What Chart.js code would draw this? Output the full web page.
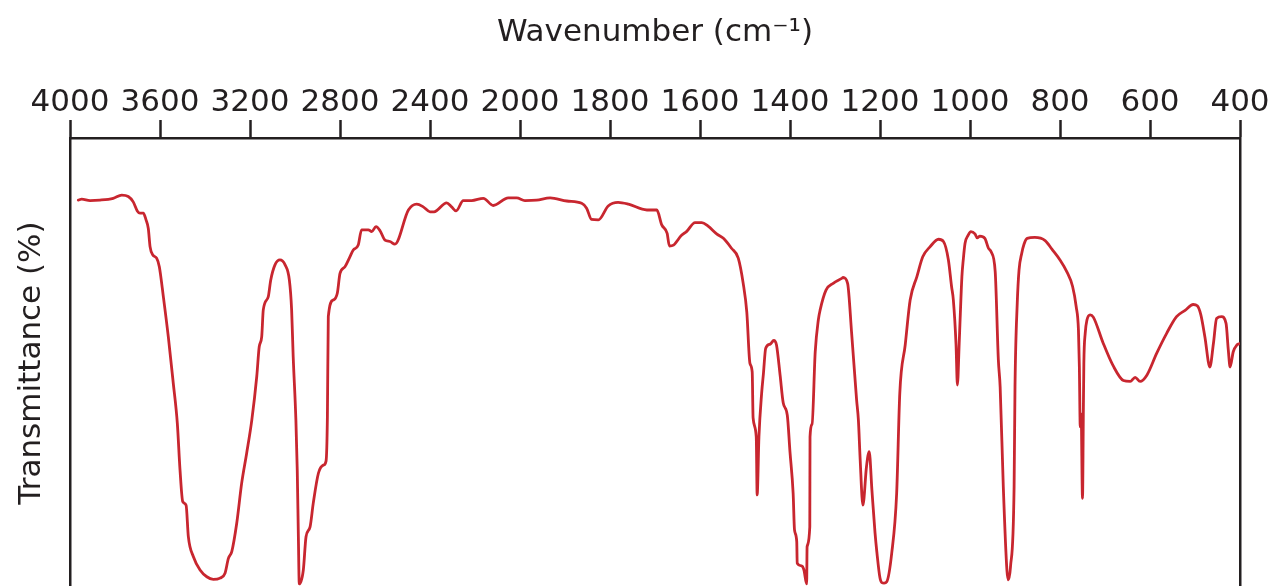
<!DOCTYPE html>
<html>
<head>
<meta charset="utf-8">
<title>IR spectrum</title>
<script src="https://cdn.jsdelivr.net/npm/chart.js@4/dist/chart.umd.min.js"></script>
<style>
  html, body { margin: 0; padding: 0; background: #ffffff; overflow: hidden; }
  #wrap { position: relative; width: 1278px; height: 600px; }
</style>
</head>
<body>
<div id="wrap"><canvas id="ir"></canvas></div>
<script>
// Tick labels along the wavenumber axis (cm⁻¹)
const tickLabels = [4000, 3600, 3200, 2800, 2400, 2000, 1800, 1600, 1400, 1200, 1000, 800, 600, 400];

// Sampled spectrum: wavenumber (cm⁻¹) and transmittance (%)
const wavenumbers = [
  3963, 3948, 3911, 3867, 3808, 3770, 3741, 3719, 3701, 3689, 3674, 3662, 3652, 3644, 3632, 3615, 3603,
  3585, 3563, 3541, 3523, 3511, 3499, 3484, 3474, 3452, 3422, 3392, 3363, 3333, 3311, 3296, 3281, 3259,
  3237, 3215, 3192, 3170, 3159, 3148, 3141, 3119, 3108, 3089, 3067, 3044, 3025, 3015, 3008, 2996, 2990,
  2985, 2981, 2963, 2951, 2933, 2919, 2896, 2874, 2862, 2856, 2852, 2830, 2812, 2800, 2778, 2756, 2741,
  2719, 2704, 2674, 2659, 2640, 2622, 2600, 2578, 2556, 2496, 2459, 2430, 2400, 2382, 2326, 2304, 2284,
  2252, 2215, 2163, 2119, 2052, 2015,
  1989, 1963, 1933, 1896, 1863, 1852, 1841, 1826, 1804, 1782, 1759, 1718, 1696, 1685, 1673, 1668, 1659,
  1641, 1630, 1611, 1596, 1582, 1563, 1548, 1530, 1515, 1504, 1496, 1489, 1484, 1482, 1475, 1473, 1469,
  1463, 1459, 1454, 1444, 1436, 1430, 1422, 1415, 1406, 1400, 1393, 1390, 1385, 1384, 1374, 1369, 1363,
  1362, 1356, 1355.5, 1351, 1344, 1337, 1333, 1320, 1304, 1285, 1282, 1272, 1263, 1252, 1248, 1244, 1238,
  1230, 1224, 1218, 1211, 1207, 1200, 1196, 1191, 1185, 1174, 1163, 1156, 1144, 1133, 1118, 1105, 1089,
  1070, 1059, 1048, 1041, 1037, 1031, 1028, 1024, 1022, 1018, 1015, 1011, 1004, 998, 989, 984, 978, 967,
  959, 953, 944, 937, 933, 926, 918, 915, 910, 902, 900, 895, 891, 885, 880, 873, 856, 833, 818, 800, 785,
  772, 764, 759, 757, 755, 753, 750, 748, 747, 744, 740, 733, 726, 704, 682, 659, 644, 633, 622, 607, 585,
  563, 541, 522, 504, 495, 487, 478, 467, 459, 452, 441, 431, 426, 422, 415, 407, 400
];
const transmittance = [
  86.2, 86.4, 86.1, 86.2, 86.6, 87.3, 87.0, 85.8, 83.8, 83.3, 83.3, 81.8, 79.9, 75.8, 74.0, 73.3, 71.4,
  64.7, 55.8, 45.5, 36.6, 26.2, 19.2, 18.4, 11.4, 7.0, 4.0, 2.5, 1.9, 2.2, 3.3, 6.6, 8.1, 14.4,
  23.3, 29.9, 37.3, 47.0, 53.6, 55.8, 61.8, 64.7, 68.4, 71.8, 72.9, 71.8, 68.4, 61.8, 51.4, 37.3, 26.2,
  11.4, 0.9, 4.0, 11.4, 13.6, 18.8, 25.5, 27.3, 28.2, 38.1, 60.3, 64.0, 65.5, 69.9, 71.4, 73.6, 75.1,
  76.2, 79.6, 79.6, 79.2, 80.3, 79.4, 77.3, 77.0, 76.4, 84.0, 85.3, 84.7, 83.6, 83.6, 85.6, 84.7, 83.8,
  86.1, 86.1, 86.6, 85.0, 86.7, 86.7,
  86.1, 86.2, 86.7, 86.0, 85.5, 84.4, 81.9, 81.8, 84.9, 85.7, 85.3, 84.0, 84.0, 80.7, 78.8, 76.0, 76.2,
  78.4, 79.2, 81.2, 81.2, 80.4, 78.7, 77.7, 75.5, 73.3, 67.7, 61.3, 49.9, 48.0, 37.8, 33.6, 20.7, 33.6,
  43.3, 47.7, 53.3, 54.2, 55.0, 54.0, 47.3, 41.1, 38.4, 30.2, 21.0, 12.9, 10.3, 5.5, 4.9, 4.0, 0.9,
  9.2, 13.6, 33.6, 36.4, 52.4, 59.6, 61.8, 66.2, 67.7, 68.8, 69.0, 67.7, 56.6, 41.8, 37.3, 28.4, 18.4,
  27.0, 30.3, 21.8, 12.2, 8.0, 2.2, 1.2, 1.1, 1.4, 7.7, 21.0, 43.3, 54.0, 64.0, 69.2, 73.6, 75.8,
  77.5, 77.0, 72.9, 67.0, 64.0, 54.0, 45.1, 54.4, 59.6, 69.2, 72.9, 76.6, 78.4, 79.2, 78.7, 77.8, 78.2, 77.7,
  75.5, 74.7, 70.3, 50.7, 44.7, 22.5, 4.0, 1.8, 4.7, 22.5, 44.7, 63.3, 70.7, 74.4, 76.4, 77.7, 77.9, 77.2, 75.3, 72.9, 70.3,
  67.0, 62.5, 57.3, 49.3, 35.8, 38.7, 19.9, 40.3, 49.9, 56.6, 59.6, 60.7, 60.2, 54.4, 49.4, 46.1, 45.9, 46.8, 45.9, 47.3, 52.2,
  56.6, 60.3, 61.7, 63.0, 62.7, 60.7, 55.8, 49.1, 54.4, 59.9, 60.3, 58.8, 52.9, 49.1, 52.5, 54.0, 54.3
];

// The wavenumber axis is split: 4000–2000 cm⁻¹ is drawn at half the scale of 2000–400 cm⁻¹.
function axisPos(wn) {
  return wn >= 2000 ? (4000 - wn) / 2 : 1000 + (2000 - wn);
}

const points = wavenumbers.map((wn, i) => ({ x: axisPos(wn), y: transmittance[i] }));

const ink = '#231f20';
const fontFamily = '"DejaVu Sans", "Liberation Sans", sans-serif';

new Chart(document.getElementById('ir'), {
  type: 'line',
  data: {
    datasets: [{
      data: points,
      borderColor: '#c8262f',
      borderWidth: 2.8,
      pointRadius: 0,
      cubicInterpolationMode: 'monotone',
      borderJoinStyle: 'round',
      borderCapStyle: 'round',
      fill: false
    }]
  },
  options: {
    responsive: true,
    maintainAspectRatio: false,
    animation: false,
    events: [],
    layout: { padding: { top: 0, right: 0, bottom: 12, left: 0 } },
    plugins: {
      legend: { display: false },
      tooltip: { enabled: false },
      title: { display: false }
    },
    scales: {
      x: {
        type: 'linear',
        position: 'top',
        min: 0,
        max: axisPos(400),
        afterBuildTicks(scale) {
          scale.ticks = tickLabels.map(wn => ({ value: axisPos(wn) }));
        },
        afterFit(scale) { scale.height = 138; },
        ticks: {
          autoSkip: false,
          maxRotation: 0,
          padding: -2,
          color: ink,
          font: { family: fontFamily, size: 31 },
          callback: (value, index) => String(tickLabels[index])
        },
        grid: {
          drawOnChartArea: false,
          drawTicks: true,
          tickLength: 18,
          tickWidth: 2.5,
          tickColor: ink
        },
        border: { display: true, width: 2.5, color: ink },
        title: {
          display: true,
          text: 'Wavenumber (cm⁻¹)',
          color: ink,
          font: { family: fontFamily, size: 31 },
          padding: { top: 14, bottom: 0 }
        }
      },
      y: {
        type: 'linear',
        position: 'left',
        min: 0,
        max: 100,
        afterFit(scale) { scale.width = 70; },
        ticks: { display: false },
        grid: { display: false },
        border: { display: true, width: 2.5, color: ink },
        title: {
          display: true,
          text: 'Transmittance (%)',
          color: ink,
          font: { family: fontFamily, size: 31 },
          padding: { top: 13, bottom: 0 }
        }
      },
      yRight: {
        type: 'linear',
        axis: 'y',
        position: 'right',
        min: 0,
        max: 100,
        afterFit(scale) { scale.width = 38; },
        ticks: { display: false },
        grid: { display: false },
        border: { display: true, width: 2.5, color: ink }
      }
    }
  }
});
</script>
</body>
</html>
